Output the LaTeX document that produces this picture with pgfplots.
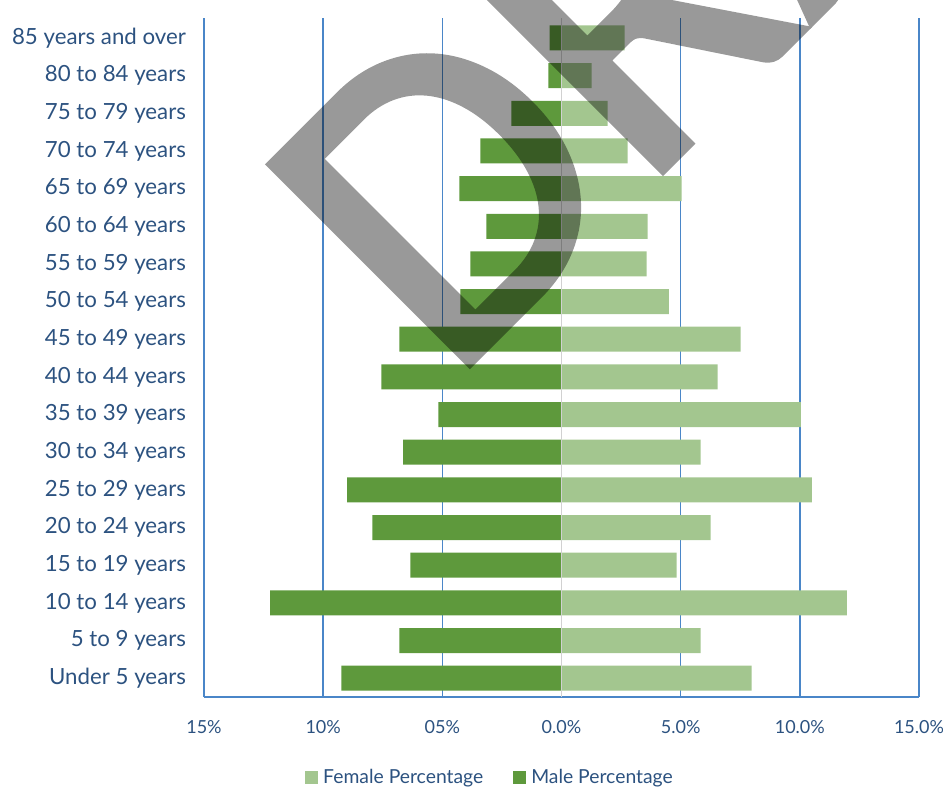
\documentclass[border=0pt]{standalone}
\usepackage{fontspec}
\setmainfont{Lato}
\newfontfamily\wmfont{Carlito}[FakeBold=1.5]
\usepackage{pgfplots}
\pgfplotsset{compat=1.18}
\definecolor{male}{RGB}{94,153,60}
\definecolor{female}{RGB}{163,198,143}
\definecolor{gridblue}{RGB}{74,134,200}
\definecolor{txtblue}{RGB}{44,82,128}
\begin{document}
\begin{tikzpicture}
\begin{axis}[
  scale only axis, width=536.25pt, height=509.25pt,
  xbar, bar width=18.75pt, bar shift=0pt,
  xmin=-15, xmax=15, ymin=-0.5, ymax=17.53,
  xtick={-15,-10,-5,0,5,10,15},
  xticklabels={15\%,10\%,05\%,0.0\%,5.0\%,10.0\%,15.0\%},
  ytick={0,...,17},
  yticklabels={Under 5 years,5 to 9 years,10 to 14 years,15 to 19 years,20 to 24 years,25 to 29 years,30 to 34 years,35 to 39 years,40 to 44 years,45 to 49 years,50 to 54 years,55 to 59 years,60 to 64 years,65 to 69 years,70 to 74 years,75 to 79 years,80 to 84 years,85 years and over},
  major tick length=0pt,
  axis line style={draw=none},
  xmajorgrids, grid style={gridblue, line width=1.2pt},
  xticklabel style={font=\fontsize{13.5}{16}\selectfont, text=txtblue, yshift=-14pt},
  yticklabel style={font=\fontsize{16.7}{20}\selectfont, text=txtblue, xshift=-10pt},
  legend style={at={(rel axis cs:0.400,-0.119)}, anchor=center, legend columns=2, draw=none,
    font=\fontsize{14.5}{17}\selectfont, text=txtblue,
    /tikz/every even column/.append style={column sep=20pt}},
  legend image code/.code={\fill[#1,draw=none] (0pt,-4.9pt) rectangle (9.75pt,4.9pt); \path (12pt,0pt);},
]
\addplot[fill=female, draw=none] coordinates {
(7.98,0) (5.84,1) (11.97,2) (4.83,3) (6.26,4) (10.5,5) (5.84,6) (10.04,7) (6.55,8)
(7.52,9) (4.5,10) (3.57,11) (3.61,12) (5.04,13) (2.77,14) (1.93,15) (1.26,16) (2.65,17)};
\addlegendentry{Female Percentage}
\addplot[fill=male, draw=none] coordinates {
(-9.24,0) (-6.8,1) (-12.23,2) (-6.34,3) (-7.94,4) (-8.99,5) (-6.64,6) (-5.17,7) (-7.56,8)
(-6.8,9) (-4.24,10) (-3.82,11) (-3.15,12) (-4.29,13) (-3.4,14) (-2.1,15) (-0.55,16) (-0.5,17)};
\addlegendentry{Male Percentage}
\draw[gridblue, line width=1.2pt] (rel axis cs:0,0) -- (rel axis cs:1,0);
\draw[black!18, line width=1pt] (axis cs:0,-0.5) -- (axis cs:0,17.53);
\coordinate (sw) at (rel axis cs:0,0);
\coordinate (ne) at (rel axis cs:1,1);
\coordinate (wm) at (axis cs:-4.74,7.76);
\end{axis}
\begin{scope}[blend mode=multiply]
\begin{scope}[transparency group]
\node[overlay, rotate=45, anchor=base west, inner sep=0pt, text=black!40] at (wm)
  {\wmfont\fontsize{331}{331}\selectfont DRAFT};
\end{scope}
\end{scope}
\pgfresetboundingbox
\path[use as bounding box] ([xshift=-153pt,yshift=-69pt]sw) rectangle ([xshift=18pt,yshift=13.5pt]ne);
\end{tikzpicture}
\end{document}
